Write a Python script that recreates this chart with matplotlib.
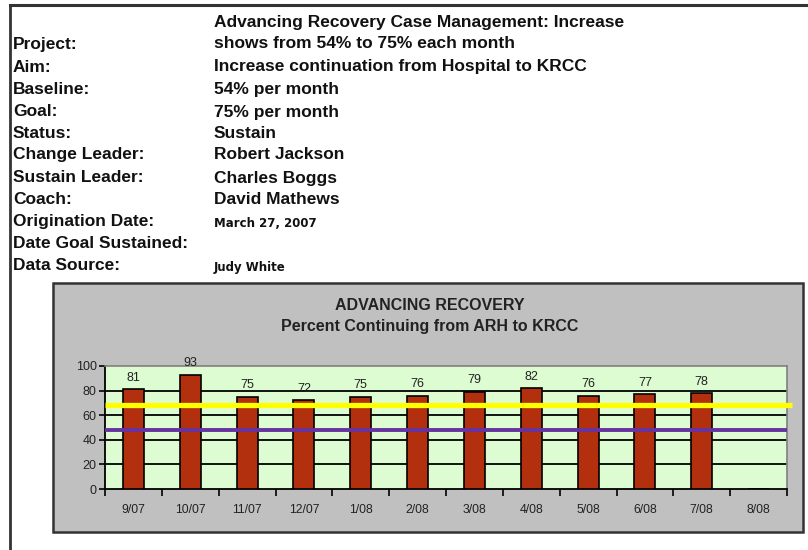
import matplotlib
matplotlib.use("Agg")
import matplotlib.pyplot as plt
from matplotlib.patches import Rectangle
from matplotlib.lines import Line2D

# ---- data ----
months = ["9/07", "10/07", "11/07", "12/07", "1/08", "2/08", "3/08",
          "4/08", "5/08", "6/08", "7/08", "8/08"]
percent = [81, 93, 75, 72, 75, 76, 79, 82, 76, 77, 78, None]
goal_line = 68
baseline_line = 48
yticks = [0, 20, 40, 60, 80, 100]

info_labels = ["Project:", "Aim:", "Baseline:", "Goal:", "Status:", "Change Leader:",
               "Sustain Leader:", "Coach:", "Origination Date:", "Date Goal Sustained:",
               "Data Source:"]
info_values = ["shows from 54% to 75% each month",
               "Increase continuation from Hospital to KRCC",
               "54% per month", "75% per month", "Sustain", "Robert Jackson",
               "Charles Boggs", "David Mathews", "March 27, 2007", "", "Judy White"]
project_line1 = "Advancing Recovery Case Management: Increase"
chart_title = "ADVANCING RECOVERY"
chart_subtitle = "Percent Continuing from ARH to KRCC"

W, H = 808, 550
plt.rcParams['font.family'] = ['Liberation Sans', 'DejaVu Sans']
fig = plt.figure(figsize=(W / 100, H / 100), dpi=100)
fig.patch.set_facecolor("white")

def fx(x):
    return x / W

def fy(y):
    return 1 - y / H

# outer border (top and left)
fig.add_artist(Line2D([fx(10), fx(808)], [fy(4.5), fy(4.5)], color="#333333", lw=2.2,
                      transform=fig.transFigure))
fig.add_artist(Line2D([fx(10), fx(10)], [fy(4.5), fy(550)], color="#333333", lw=2.0,
                      transform=fig.transFigure))

# header text
HFS = 12.5
fig.text(fx(214), fy(22), project_line1, fontsize=HFS, fontweight="bold",
         va="center", ha="left", color="#111111")
row_y = [44, 67, 90, 112, 133, 155, 178, 200, 222, 244, 266]
for lab, val, y in zip(info_labels, info_values, row_y):
    fig.text(fx(13), fy(y), lab, fontsize=HFS, fontweight="bold", va="center",
             ha="left", color="#111111")
    small = lab in ("Origination Date:", "Data Source:")
    if small:
        fig.text(fx(214), fy(y + 1), val, fontsize=8.5, fontweight="bold",
                 family=["DejaVu Sans"], va="center", ha="left", color="#111111")
    else:
        fig.text(fx(214), fy(y), val, fontsize=HFS, fontweight="bold",
                 va="center", ha="left", color="#111111")

# gray chart panel
fig.add_artist(Rectangle((fx(53), fy(532)), fx(803) - fx(53), fy(283) - fy(532),
                         facecolor="#c0c0c0", edgecolor="#333333", lw=1.8,
                         transform=fig.transFigure, zorder=0))

fig.text(fx(430), fy(305), chart_title, fontsize=11.5, fontweight="bold",
         ha="center", va="center", color="#222222")
fig.text(fx(430), fy(326), chart_subtitle, fontsize=11.5, fontweight="bold",
         ha="center", va="center", color="#222222")

# axes
ax = fig.add_axes([fx(105), fy(489), fx(787) - fx(105), fy(366) - fy(489)])
ax.set_facecolor("#ddfcd2")
xs = list(range(len(months)))
vals = [v if v is not None else 0 for v in percent]
ax.bar(xs, vals, width=0.37, color="#b3300f", edgecolor="black", lw=1.2, zorder=3)
for x, v in zip(xs, percent):
    if v is not None:
        ax.annotate(str(v), (x, v), xytext=(0, 4), textcoords="offset points",
                    ha="center", va="bottom", fontsize=9, color="#222222",
                    annotation_clip=False)

ax.set_xlim(-0.5, len(months) - 0.5)
ax.set_ylim(0, 100)
ax.set_yticks(yticks)
ax.set_yticklabels([str(t) for t in yticks], fontsize=9, color="#222222")
ax.set_xticks(xs)
ax.set_xticklabels(months, fontsize=8.8, color="#222222")
ax.tick_params(axis="x", length=0, pad=11)
ax.set_xticks([x + 0.5 for x in [-1] + xs], minor=True)
ax.tick_params(axis="x", which="minor", length=5, width=1.2, direction="out", color="black")
ax.tick_params(axis="y", length=4, width=1.2, direction="out", color="black", pad=2)

for t in yticks[1:-1]:
    ax.axhline(t, color="black", lw=1.3, zorder=1)

ax.plot([-0.5, len(months) - 0.5 + 5 / 56.8], [goal_line, goal_line],
        color="#ffff00", lw=3.8, zorder=4, clip_on=False, solid_capstyle="butt")
ax.plot([-0.5, len(months) - 0.5], [baseline_line, baseline_line],
        color="#6633a0", lw=2.8, zorder=4, solid_capstyle="butt")

for s in ["top", "right"]:
    ax.spines[s].set_color("#808080")
    ax.spines[s].set_linewidth(1.2)
for s in ["left", "bottom"]:
    ax.spines[s].set_color("black")
    ax.spines[s].set_linewidth(1.3)

fig.savefig("out.png", dpi=100, facecolor="white")
